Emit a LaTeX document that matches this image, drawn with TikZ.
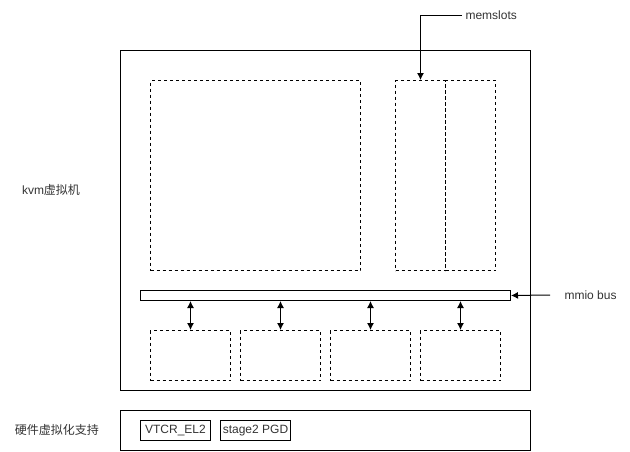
\documentclass[tikz,border=0pt]{standalone}
\usepackage{fontspec}
\setmainfont{Liberation Sans}
\newfontfamily\cjk{Noto Sans CJK SC}
\usetikzlibrary{positioning}
\usetikzlibrary{arrows.meta}

\tikzset{
    box/.style={draw, line width=1pt, anchor=north west, inner sep=0pt},
    dbox/.style={box, dash pattern=on 3pt off 3pt},
    lbl/.style={text=black!80, font=\fontsize{12}{14}\selectfont},
    tip/.style={-{Latex[length=7pt,width=7pt]}, line width=1pt}
}

\begin{document}
\begin{tikzpicture}[x=1pt,y=-1pt]
            \useasboundingbox (0,0) rectangle (630,451);

            \node[box, minimum width=410pt, minimum height=340pt] (vm) at (120,50) {};
            \node[dbox, minimum width=210pt, minimum height=190pt] (mem) at (150,80) {};
            \node[dbox, minimum width=50pt, minimum height=190pt] (slota) at (395,80) {};
            \node[dbox, minimum width=50pt, minimum height=190pt] (slotb) at (445,80) {};
            \node[box, minimum width=370pt, minimum height=10pt] (bus) at (140,290) {};

            \foreach \i/\x in {1/150,2/240,3/330,4/420} {
                \node[dbox, minimum width=80pt, minimum height=50pt] (dev\i) at (\x,330) {};
                \draw[tip, {Latex[length=7pt,width=7pt]}-{Latex[length=7pt,width=7pt]}] (dev\i.north |- bus.south) -- (dev\i.north);
            }

            \node[lbl, anchor=west] (memlbl) at (462,15) {memslots};
            \draw[tip] (memlbl.west) -| (slota.north);

            \coordinate (mmioend) at (550,295);
            \node[lbl, anchor=west, right=11pt of mmioend] (mmiolbl) {mmio bus};
            \draw[tip] (mmioend) -- (bus.east);

            \node[lbl] (kvmlbl) at (51,190) {kvm{\cjk 虚拟机}};

            \node[box, minimum width=410pt, minimum height=40pt] (hw) at (120,410) {};
            \node[box, minimum width=70pt, minimum height=20pt] (vtcr) at (140,420) {};
            \node[lbl] at (vtcr.center) {VTCR\_EL2};
            \node[box, minimum width=70pt, minimum height=20pt] (pgd) at (220,420) {};
            \node[lbl] at (pgd.center) {stage2 PGD};
            \node[lbl] (hwlbl) at (57,430) {\cjk 硬件虚拟化支持};
        \end{tikzpicture}
\end{document}
